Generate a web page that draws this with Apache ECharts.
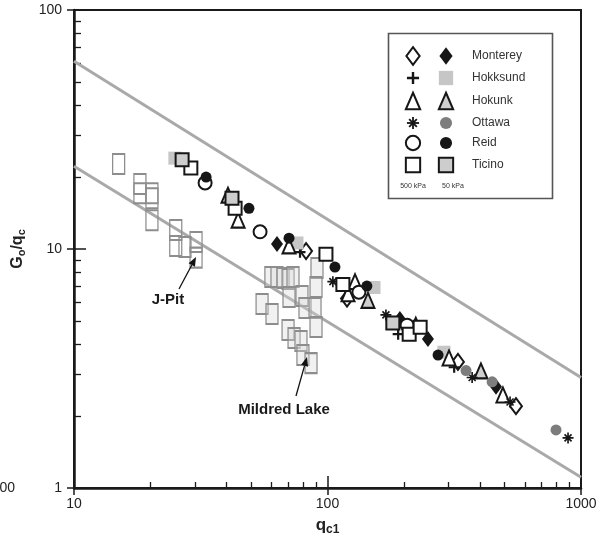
<!DOCTYPE html>
<html>
<head>
<meta charset="utf-8">
<script src="https://cdn.jsdelivr.net/npm/echarts@6/dist/echarts.min.js"></script>
<style>
  html, body { margin: 0; padding: 0; background: #ffffff; }
  #chart { width: 606px; height: 539px; }
</style>
</head>
<body>
<div id="chart"></div>
<script>
// ---- axis ticks ----
const xMajorTicks = [10, 100, 1000];
const xMinorTicks = [20, 30, 40, 50, 60, 70, 80, 90, 200, 300, 400, 500, 600, 700, 800, 900];
const yMajorTicks = [1, 10, 100];
const yMinorTicks = [2, 3, 4, 5, 6, 7, 8, 9, 20, 30, 40, 50, 60, 70, 80, 90];

// ---- bounding lines [qc1, Go/qc] ----
const upperBound = [[10, 61], [1000, 2.9]];
const lowerBound = [[10, 22.2], [1000, 1.11]];

// ---- site data [qc1, Go/qc] ----
const jPit = [
  [15.0, 22.7], [18.2, 18.7], [18.2, 17.1], [20.3, 17.1], [20.3, 16.3], [20.3, 13.2],
  [25.2, 12.0], [25.2, 10.3], [27.4, 10.2], [30.3, 10.7], [30.3, 9.2]
];
const mildredLake = [
  [59.8, 7.64], [63.2, 7.64], [66.8, 7.56], [69.9, 7.49], [73.1, 7.64], [70.5, 6.30],
  [55.2, 5.89], [60.4, 5.35], [79.3, 6.36], [81.5, 5.66], [89.3, 5.66], [90.1, 4.72],
  [90.9, 8.33], [90.1, 6.93], [69.9, 4.58], [73.8, 4.24], [78.6, 4.12], [80.0, 3.60],
  [86.1, 3.33]
];

// ---- calibration chamber sands, 500 kPa (open) and 50 kPa (filled) ----
const montereyHigh = [[82.3, 9.8], [119.4, 6.2], [327, 3.37], [554, 2.2]];
const montereyLow  = [[63.2, 10.5], [193, 5.1], [249, 4.2], [462, 2.65]];
const hokksundHigh = [[28.7, 22.0], [77.9, 9.7], [190, 4.4], [316, 3.2]];
const hokksundLow  = [[25.0, 24.0], [75.8, 10.6], [152.6, 6.9], [288, 3.7]];
const hokunkHigh   = [[40.5, 16.8], [44.4, 13.2], [70.5, 10.3], [120.5, 6.5], [128.4, 7.3], [301.6, 3.5], [492, 2.45]];
const hokunkLow    = [[144.4, 6.1], [223, 4.8], [403, 3.09]];
const ottawaHigh   = [[105, 7.3], [170, 5.3], [372, 2.9], [525, 2.29], [889, 1.62]];
const ottawaLow    = [[352, 3.1], [446, 2.78], [797, 1.75]];
const reidHigh     = [[32.9, 18.9], [54.2, 11.8], [133, 6.6], [206, 4.8]];
const reidLow      = [[33.2, 20.0], [49.0, 14.8], [70.5, 11.1], [107, 8.4], [143, 7.0], [273, 3.6]];
const ticinoHigh   = [[28.9, 21.8], [43.2, 14.8], [98.6, 9.5], [115, 7.1], [210, 4.4], [232, 4.7]];
const ticinoLow    = [[26.7, 23.6], [42.0, 16.3], [181, 4.9]];

const sandNames = ['Monterey', 'Hokksund', 'Hokunk', 'Ottawa', 'Reid', 'Ticino'];

// ---- glyph outlines in a 20x20 box (plus sign and asterisk) ----
const PLUS_POLYS = [[[8, 0], [12, 0], [12, 8], [20, 8], [20, 12], [12, 12], [12, 20], [8, 20], [8, 12], [0, 12], [0, 8], [8, 8]]];
const STAR_POLYS = [
  [[8.5, 0], [11.5, 0], [11.5, 20], [8.5, 20]],
  [[0, 8.5], [20, 8.5], [20, 11.5], [0, 11.5]],
  [[15.3, 2.58], [17.43, 4.7], [4.7, 17.43], [2.58, 15.3]],
  [[2.58, 4.7], [4.7, 2.58], [17.43, 15.3], [15.3, 17.43]]
];
function polysToPath(polys) {
  return 'path://' + polys.map(function (p) {
    return 'M' + p.map(function (pt) { return pt[0] + ',' + pt[1]; }).join('L') + 'Z';
  }).join('');
}
const PLUS = polysToPath(PLUS_POLYS);
const STAR = polysToPath(STAR_POLYS);

// ---- marker styles ----
const INK = '#161616';
const open = { color: '#ffffff', borderColor: INK, borderWidth: 2 };
const markers = {
  montereyHigh: { symbol: 'diamond', size: [12, 16], style: open },
  montereyLow:  { symbol: 'diamond', size: [12, 16], style: { color: INK, borderWidth: 0 } },
  hokksundHigh: { symbol: PLUS, polys: PLUS_POLYS, size: [11, 11], style: { color: INK, borderWidth: 0 } },
  hokksundLow:  { symbol: 'rect', size: [13, 13], style: { color: '#c6c6c6', borderWidth: 0 } },
  hokunkHigh:   { symbol: 'triangle', size: [13, 15], style: open },
  hokunkLow:    { symbol: 'triangle', size: [13, 15], style: { color: '#cfcfcf', borderColor: INK, borderWidth: 2 } },
  ottawaHigh:   { symbol: STAR, polys: STAR_POLYS, size: [11, 11], style: { color: INK, borderWidth: 0 } },
  ottawaLow:    { symbol: 'circle', size: [11, 11], style: { color: '#7d7d7d', borderWidth: 0 } },
  reidHigh:     { symbol: 'circle', size: [13, 13], style: open },
  reidLow:      { symbol: 'circle', size: [11, 11], style: { color: INK, borderWidth: 0 } },
  ticinoHigh:   { symbol: 'rect', size: [13, 13], style: open },
  ticinoLow:    { symbol: 'rect', size: [13, 13], style: { color: '#cdcdcd', borderColor: INK, borderWidth: 2 } }
};
const sandData = {
  montereyHigh, montereyLow, hokksundHigh, hokksundLow, hokunkHigh, hokunkLow,
  ottawaHigh, ottawaLow, reidHigh, reidLow, ticinoHigh, ticinoLow
};

const FONT = 'Liberation Sans, Arial, sans-serif';

function scatter(name, data, m, z) {
  return {
    name, type: 'scatter', data, z: z || 3,
    symbol: m.symbol, symbolSize: m.size,
    itemStyle: Object.assign({ opacity: 1 }, m.style),
    emphasis: { disabled: true },
    silent: true
  };
}

const series = [
  {
    name: 'upper', type: 'line', data: upperBound, symbol: 'none', z: 1, silent: true,
    lineStyle: { color: '#a9a9a9', width: 3 }
  },
  {
    name: 'lower', type: 'line', data: lowerBound, symbol: 'none', z: 1, silent: true,
    lineStyle: { color: '#a9a9a9', width: 3 }
  },
  scatter('J-Pit', jPit, { symbol: 'rect', size: [12, 20],
    style: { color: 'rgba(255,255,255,0)', borderColor: '#8d8d8d', borderWidth: 1.6 } }, 2),
  scatter('Mildred Lake', mildredLake, { symbol: 'rect', size: [12, 20],
    style: { color: 'rgba(215,215,215,0.35)', borderColor: '#8d8d8d', borderWidth: 1.6 } }, 2)
];
Object.keys(sandData).forEach(function (k) {
  series.push(scatter(k, sandData[k], markers[k], 3));
});

// ---- legend drawn as graphic shapes using the same marker specs ----
function shapeFor(m, cx, cy, scale, z) {
  const w = m.size[0] * scale, h = m.size[1] * scale;
  const st = { fill: m.style.color, stroke: m.style.borderWidth ? m.style.borderColor : null, lineWidth: m.style.borderWidth || 0 };
  if (m.polys) {
    return m.polys.map(function (p) {
      return { type: 'polygon', z: z, shape: { points: p.map(function (pt) { return [cx - w / 2 + pt[0] * w / 20, cy - h / 2 + pt[1] * h / 20]; }) }, style: st };
    });
  }
  if (m.symbol === 'diamond') {
    return [{ type: 'polygon', z: z, shape: { points: [[cx, cy - h / 2], [cx + w / 2, cy], [cx, cy + h / 2], [cx - w / 2, cy]] }, style: st }];
  }
  if (m.symbol === 'triangle') {
    return [{ type: 'polygon', z: z, shape: { points: [[cx, cy - h / 2], [cx + w / 2, cy + h / 2], [cx - w / 2, cy + h / 2]] }, style: st }];
  }
  if (m.symbol === 'circle') {
    return [{ type: 'circle', z: z, shape: { cx: cx, cy: cy, r: w / 2 }, style: st }];
  }
  return [{ type: 'rect', z: z, shape: { x: cx - w / 2, y: cy - h / 2, width: w, height: h }, style: st }];
}

const legendKeys = [
  ['montereyHigh', 'montereyLow'], ['hokksundHigh', 'hokksundLow'], ['hokunkHigh', 'hokunkLow'],
  ['ottawaHigh', 'ottawaLow'], ['reidHigh', 'reidLow'], ['ticinoHigh', 'ticinoLow']
];
const legendRowY = [56, 78, 101, 123, 143, 165];
const graphics = [
  { type: 'rect', shape: { x: 388.5, y: 33.5, width: 164, height: 165 }, style: { fill: '#ffffff', stroke: '#555555', lineWidth: 1.6 }, z: 10 }
];
legendKeys.forEach(function (pair, i) {
  const y = legendRowY[i];
  graphics.push.apply(graphics, shapeFor(markers[pair[0]], 413, y, 1.1, 11));
  graphics.push.apply(graphics, shapeFor(markers[pair[1]], 446, y, 1.1, 11));
  graphics.push({ type: 'text', x: 472, y: y, z: 11,
    style: { text: sandNames[i], font: '12px ' + FONT, fill: '#333333', verticalAlign: 'middle' } });
});
graphics.push({ type: 'text', x: 413, y: 186, z: 11,
  style: { text: '500 kPa', font: '7px ' + FONT, fill: '#333333', align: 'center', verticalAlign: 'middle' } });
graphics.push({ type: 'text', x: 453, y: 186, z: 11,
  style: { text: '50 kPa', font: '7px ' + FONT, fill: '#333333', align: 'center', verticalAlign: 'middle' } });

// ---- annotation arrows ----
function arrow(x1, y1, x2, y2) {
  const dx = x2 - x1, dy = y2 - y1, L = Math.sqrt(dx * dx + dy * dy);
  const ux = dx / L, uy = dy / L, head = 9, half = 3.6;
  const bx = x2 - ux * head, by = y2 - uy * head;
  return [
    { type: 'line', shape: { x1: x1, y1: y1, x2: bx, y2: by }, style: { stroke: '#111111', lineWidth: 1.3 }, z: 12 },
    { type: 'polygon', shape: { points: [[x2, y2], [bx - uy * half, by + ux * half], [bx + uy * half, by - ux * half]] }, style: { fill: '#111111' }, z: 12 }
  ];
}
graphics.push.apply(graphics, arrow(179, 289, 196, 257));
graphics.push.apply(graphics, arrow(296, 396, 307, 357));
graphics.push({ type: 'text', x: 168, y: 300, z: 12,
  style: { text: 'J-Pit', font: 'bold 15px ' + FONT, fill: '#1a1a1a', align: 'center', verticalAlign: 'middle' } });
graphics.push({ type: 'text', x: 284, y: 410, z: 12,
  style: { text: 'Mildred Lake', font: 'bold 15px ' + FONT, fill: '#1a1a1a', align: 'center', verticalAlign: 'middle' } });
// clipped tick label of the neighbouring panel
graphics.push({ type: 'text', x: 15, y: 488, z: 12,
  style: { text: '1000', font: '14px ' + FONT, fill: '#222222', align: 'right', verticalAlign: 'middle' } });

const labelStyle = { fontFamily: FONT, fontSize: 14, color: '#222222', formatter: function (v) { return String(v); } };
const axisInk = '#1a1a1a';

const option = {
  animation: false,
  backgroundColor: '#ffffff',
  grid: { left: 74, right: 25, top: 10, bottom: 51, show: true, borderColor: axisInk, borderWidth: 2,
          containLabel: false, outerBoundsMode: 'none' },
  xAxis: [
    {
      type: 'log', logBase: 10, min: 10, max: 1000, position: 'bottom',
      axisLine: { lineStyle: { color: axisInk, width: 2.5 } },
      axisTick: { inside: true, length: 12, lineStyle: { color: axisInk, width: 1.5 } },
      axisLabel: Object.assign({ margin: 9 }, labelStyle),
      splitLine: { show: false },
      name: '{a|q}{s|c1}', nameLocation: 'middle', nameGap: 26,
      nameTextStyle: { rich: {
        a: { fontFamily: FONT, fontSize: 17, fontWeight: 'bold', color: '#222', lineHeight: 22 },
        s: { fontFamily: FONT, fontSize: 12, fontWeight: 'bold', color: '#222', lineHeight: 10, verticalAlign: 'bottom' }
      } }
    },
    {
      type: 'log', logBase: 10, min: 10, max: 1000, position: 'bottom',
      axisLine: { show: false },
      axisTick: { inside: true, length: 6, customValues: xMinorTicks, lineStyle: { color: axisInk, width: 1.3 } },
      axisLabel: { show: false }, splitLine: { show: false }
    },
    {
      type: 'log', logBase: 10, min: 10, max: 1000, position: 'bottom',
      axisLine: { show: false },
      axisTick: { inside: false, length: 7, customValues: xMajorTicks, lineStyle: { color: axisInk, width: 1.5 } },
      axisLabel: { show: false }, splitLine: { show: false }
    }
  ],
  yAxis: [
    {
      type: 'log', logBase: 10, min: 1, max: 100, position: 'left',
      axisLine: { lineStyle: { color: axisInk, width: 2.5 } },
      axisTick: { inside: true, length: 12, lineStyle: { color: axisInk, width: 1.5 } },
      axisLabel: Object.assign({ margin: 12 }, labelStyle),
      splitLine: { show: false },
      name: '{a|G}{s|o}{a|/q}{s|c}', nameLocation: 'middle', nameGap: 38, nameRotate: 90,
      nameTextStyle: { rich: {
        a: { fontFamily: FONT, fontSize: 16, fontWeight: 'bold', color: '#222', lineHeight: 20 },
        s: { fontFamily: FONT, fontSize: 11, fontWeight: 'bold', color: '#222', lineHeight: 11, verticalAlign: 'bottom' }
      } }
    },
    {
      type: 'log', logBase: 10, min: 1, max: 100, position: 'left',
      axisLine: { show: false },
      axisTick: { inside: true, length: 7, customValues: yMinorTicks, lineStyle: { color: axisInk, width: 1.3 } },
      axisLabel: { show: false }, splitLine: { show: false }
    },
    {
      type: 'log', logBase: 10, min: 1, max: 100, position: 'left',
      axisLine: { show: false },
      axisTick: { inside: false, length: 7, customValues: yMajorTicks, lineStyle: { color: axisInk, width: 1.5 } },
      axisLabel: { show: false }, splitLine: { show: false }
    }
  ],
  series: series,
  graphic: graphics
};

const chart = echarts.init(document.getElementById('chart'), null, { renderer: 'canvas' });
chart.setOption(option);
</script>
</body>
</html>
